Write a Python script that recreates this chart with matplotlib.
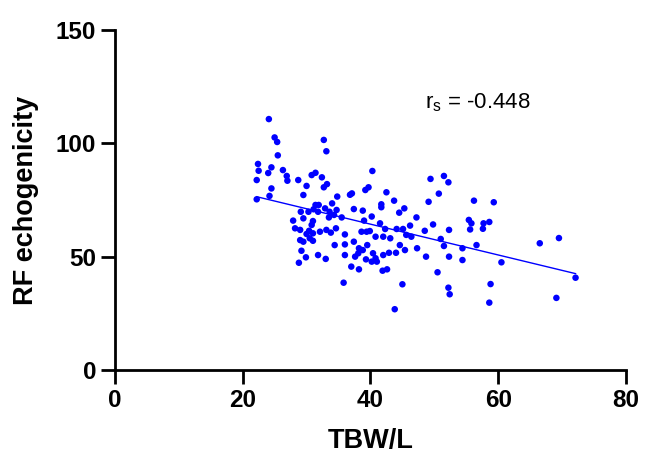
import numpy as np
import matplotlib.pyplot as plt

plt.rcParams['font.family'] = ['Liberation Sans', 'DejaVu Sans']

# TBW/L vs RF echogenicity
tbw = [24.1, 25.0, 25.4, 25.5, 22.4, 22.5, 24.0, 22.2, 24.2, 22.2, 32.7, 33.1,
       24.5, 26.3, 26.9, 27.0, 28.7, 30.8, 31.4, 32.4, 32.7, 33.2, 30.0, 29.5,
       24.5, 40.3, 34.8, 36.8, 37.1, 39.2, 39.7, 42.5, 43.7, 41.7, 41.7, 45.3,
       44.5, 34.0, 31.4, 31.9, 31.1, 31.8, 32.9, 33.6, 34.7, 29.1, 30.3, 29.5,
       27.9, 31.0, 33.5, 34.3, 35.5, 37.4, 38.8, 40.2, 39.0, 41.5, 47.2, 46.2,
       44.1, 45.1, 42.3, 28.2, 29.0, 30.8, 30.4, 30.0, 31.0, 32.1, 33.1, 33.8,
       34.6, 36.0, 38.6, 39.4, 39.9, 40.8, 42.0, 43.1, 45.6, 46.4, 47.3, 29.0,
       29.5, 30.5, 31.0, 34.4, 36.0, 37.4, 38.2, 38.8, 39.5, 38.1, 37.6, 36.0,
       40.4, 40.8, 42.0, 42.9, 44.0, 44.6, 45.4, 29.2, 29.9, 31.8, 33.0, 28.8,
       39.3, 40.2, 41.0, 37.0, 38.2, 41.9, 42.6, 35.8, 45.0, 43.8,
       49.4, 51.5, 52.2, 50.7, 49.1, 56.2, 49.8, 48.5, 51.0, 51.5, 52.3, 48.7,
       52.3, 54.4, 54.4, 50.5, 52.2, 52.4, 55.4, 55.6, 55.8, 56.6,
       59.3, 57.7, 58.6, 57.6, 60.5, 58.8, 58.6, 66.5, 69.5, 69.1, 72.1]
echo = [110.7, 102.6, 100.6, 94.7, 90.9, 87.9, 86.9, 83.8, 76.8, 75.3, 101.5, 96.5,
        89.4, 88.2, 85.6, 83.5, 83.8, 86.0, 87.0, 85.0, 80.6, 82.0, 81.2, 77.2,
        80.1, 87.8, 76.5, 77.3, 77.9, 79.4, 80.6, 78.4, 74.7, 73.1, 71.8, 71.3,
        69.4, 73.5, 72.8, 72.8, 70.9, 69.8, 71.3, 69.8, 70.6, 69.8, 69.8, 66.9,
        65.9, 65.7, 67.3, 68.4, 67.3, 71.0, 70.3, 67.7, 65.9, 64.7, 67.3, 63.7,
        62.2, 62.2, 62.2, 62.5, 61.8, 64.0, 61.4, 60.0, 60.3, 61.0, 61.8, 60.6,
        62.5, 59.8, 61.0, 61.0, 61.3, 58.8, 58.8, 58.1, 59.6, 58.8, 53.7, 57.3,
        56.6, 58.1, 57.0, 55.1, 55.4, 56.6, 53.7, 52.9, 55.1, 51.5, 50.0, 50.7,
        51.5, 49.3, 50.7, 51.7, 51.7, 55.1, 52.9, 52.6, 49.7, 50.7, 49.0, 47.3,
        48.8, 47.8, 47.8, 45.6, 44.4, 43.8, 44.4, 38.5, 37.8, 26.8,
        84.3, 85.6, 82.8, 77.8, 74.2, 74.7, 64.2, 61.4, 57.8, 54.7, 61.8, 50.0,
        50.0, 48.5, 53.7, 43.1, 36.3, 33.4, 66.2, 62.0, 64.7, 55.1,
        74.0, 64.7, 65.3, 62.3, 47.5, 37.9, 29.7, 55.9, 58.2, 31.8, 40.7]
rs_label = 'r$_\\mathregular{s}$ = -0.448'

x = np.array(tbw)
y = np.array(echo)
slope, icpt = np.polyfit(x, y, 1)
xf = np.array([x.min(), x.max()])

fig = plt.figure(figsize=(6.49, 4.59), dpi=100)
ax = fig.add_axes([0.177, 0.194, 0.7876, 0.7406])
ax.scatter(x, y, s=22, color='#0000ff', edgecolors='none', zorder=3)
ax.plot(xf, slope * xf + icpt, color='#0000ff', lw=1.0)

ax.set_xlim(0, 80)
ax.set_ylim(0, 150)
ax.set_xticks([0, 20, 40, 60, 80])
ax.set_yticks([0, 50, 100, 150])
ax.spines['top'].set_visible(False)
ax.spines['right'].set_visible(False)
for s in ['left', 'bottom']:
    ax.spines[s].set_linewidth(2)
ax.tick_params(width=2, length=10, labelsize=17.5)
for lab in ax.get_xticklabels() + ax.get_yticklabels():
    lab.set_fontweight('bold')

ax.set_xlabel('TBW/L', fontsize=19.5, fontweight='bold', labelpad=12)
ax.set_ylabel('RF echogenicity', fontsize=19.5, fontweight='bold', labelpad=12)
ax.text(48.5, 118, rs_label, fontsize=16, va='center')

fig.savefig('out.png')
